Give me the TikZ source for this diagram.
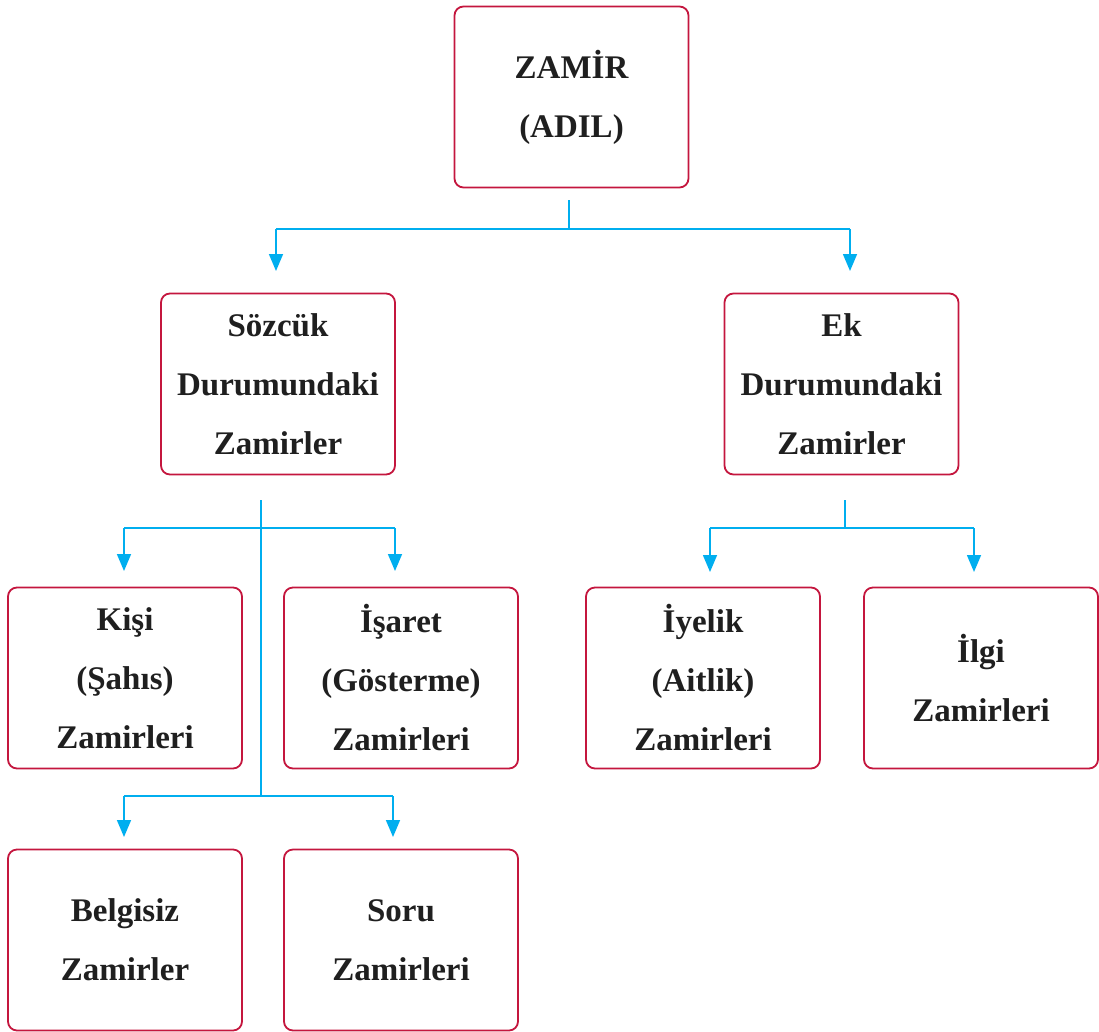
\documentclass[tikz,border=0pt]{standalone}
\usepackage{fontspec}
\setmainfont{Liberation Serif}
\usetikzlibrary{arrows.meta}
\definecolor{boxred}{RGB}{196,22,62}
\definecolor{linkblue}{RGB}{0,174,239}
\tikzset{
  box/.style={draw=boxred, line width=1.8pt, rounded corners=9pt, minimum width=234pt, minimum height=181pt,
    align=center, inner sep=0pt, font=\fontsize{33}{59}\selectfont\bfseries, text=black!88},
  link/.style={draw=linkblue, line width=1.6pt},
  arr/.style={link, -{Triangle[length=17pt,width=14pt]}}
}
\begin{document}
\begin{tikzpicture}[x=1pt,y=-1pt]
\useasboundingbox (0,0) rectangle (1099,1031);
% boxes
\node[box] (zamir) at (571.5,97) {ZAMİR\\(ADIL)};
\node[box] (sozcuk) at (278,384) {Sözcük\\Durumundaki\\Zamirler};
\node[box] (ek) at (841.5,384) {Ek\\Durumundaki\\Zamirler};
\node[box] (kisi) at (125,678) {Kişi\\(Şahıs)\\Zamirleri};
\node[box] (isaret) at (401,678) {İşaret\\(Gösterme)\\Zamirleri};
\node[box] (iyelik) at (703,678) {İyelik\\(Aitlik)\\Zamirleri};
\node[box] (ilgi) at (981,678) {İlgi\\Zamirleri};
\node[box] (belgisiz) at (125,940) {Belgisiz\\Zamirler};
\node[box] (soru) at (401,940) {Soru\\Zamirleri};
% level 1
\coordinate (z0) at (569,200);
\coordinate (z1) at (569,229);
\coordinate (zl) at (276,229);
\coordinate (zr) at (850,229);
\coordinate (tsoz) at (276,271);
\coordinate (tek) at (850,271);
\draw[link] (z0) -- (z1);
\draw[link] (zl) -- (zr);
\draw[arr] (zl) -- (tsoz);
\draw[arr] (zr) -- (tek);
% sozcuk
\coordinate (s0) at (261,500);
\coordinate (s1) at (261,796);
\coordinate (sl) at (124,528);
\coordinate (sr) at (395,528);
\coordinate (tkisi) at (124,571);
\coordinate (tisaret) at (395,571);
\coordinate (bl) at (124,796);
\coordinate (br) at (393,796);
\coordinate (tbel) at (124,837);
\coordinate (tsoru) at (393,837);
\draw[link] (s0) -- (s1);
\draw[link] (sl) -- (sr);
\draw[arr] (sl) -- (tkisi);
\draw[arr] (sr) -- (tisaret);
\draw[link] (bl) -- (br);
\draw[arr] (bl) -- (tbel);
\draw[arr] (br) -- (tsoru);
% ek
\coordinate (e0) at (845,500);
\coordinate (e1) at (845,528);
\coordinate (el) at (710,528);
\coordinate (er) at (974,528);
\coordinate (tiye) at (710,572);
\coordinate (tilgi) at (974,572);
\draw[link] (e0) -- (e1);
\draw[link] (el) -- (er);
\draw[arr] (el) -- (tiye);
\draw[arr] (er) -- (tilgi);
\end{tikzpicture}
\end{document}
